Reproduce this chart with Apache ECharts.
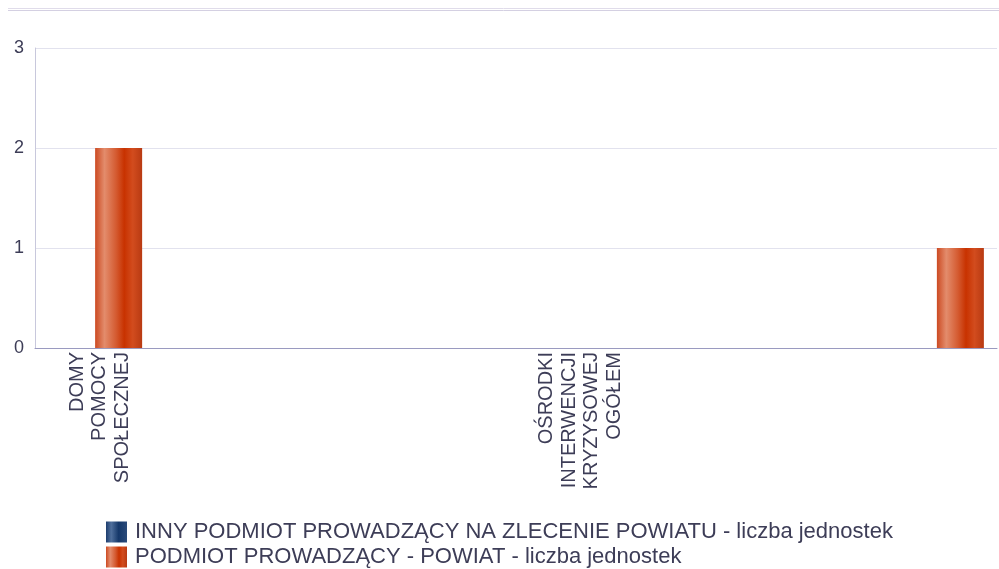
<!DOCTYPE html>
<html>
<head>
<meta charset="utf-8">
<script src="https://cdn.jsdelivr.net/npm/echarts@6/dist/echarts.min.js"></script>
<style>
html,body{margin:0;padding:0;background:#fff;}
#chart{width:999px;height:569px;}
</style>
</head>
<body>
<div id="chart"></div>
<script>
const categories = ["DOMY POMOCY SPOŁECZNEJ", "", "", "", "OŚRODKI INTERWENCJI KRYZYSOWEJ OGÓŁEM", "", "", ""];
const seriesNames = ["INNY PODMIOT PROWADZĄCY NA ZLECENIE POWIATU - liczba jednostek", "PODMIOT PROWADZĄCY - POWIAT - liczba jednostek"];
const innyValues = [0, 0, 0, 0, 0, 0, 0, 0];
const powiatValues = [2, 0, 0, 0, 0, 0, 0, 1];
const yTicks = [0, 1, 2, 3];

const FONT = "Liberation Sans";
const TXT = "#3d3d57";

const blueGrad = new echarts.graphic.LinearGradient(0, 0, 1, 0, [
  {offset: 0, color: '#1d3d6e'}, {offset: 0.25, color: '#4f6f9c'},
  {offset: 0.6, color: '#15386a'}, {offset: 1, color: '#2a4a7a'}
]);
const orangeGrad = new echarts.graphic.LinearGradient(0, 0, 1, 0, [
  {offset: 0, color: '#cc4a22'}, {offset: 0.2, color: '#e38c6c'},
  {offset: 0.45, color: '#d45a30'}, {offset: 0.62, color: '#c83200'},
  {offset: 0.8, color: '#d24c1e'}, {offset: 1, color: '#b83a12'}
]);

const chart = echarts.init(document.getElementById('chart'), null, {renderer: 'canvas'});
chart.setOption({
  animation: false,
  backgroundColor: '#fff',
  graphic: [
    {type: 'line', shape: {x1: 8, y1: 8.5, x2: 999, y2: 8.5}, style: {stroke: '#e0dcea', lineWidth: 1}},
    {type: 'line', shape: {x1: 8, y1: 10.5, x2: 999, y2: 10.5}, style: {stroke: '#d4d0e2', lineWidth: 1}}
  ],
  grid: {left: 35, right: 2, top: 48, bottom: 221, containLabel: false},
  legend: {
    orient: 'vertical', left: 106, top: 520, itemGap: 1, padding: 0,
    itemWidth: 21, itemHeight: 21, icon: 'rect',
    textStyle: {fontFamily: FONT, fontSize: 22, lineHeight: 16, color: TXT, padding: [8, 0, 0, 3]},
    data: seriesNames
  },
  xAxis: {
    type: 'category', data: categories,
    axisLine: {show: true, lineStyle: {color: '#9a9ac0', width: 1}},
    axisTick: {show: false},
    axisLabel: {
      interval: 3, rotate: 90, margin: 4, color: TXT, fontFamily: FONT, fontSize: 20, lineHeight: 22.5,
      rich: {s: {lineHeight: 9, fontSize: 1}},
      formatter: v => v ? '{s|}\n' + v.split(' ').join('\n') : ''
    }
  },
  yAxis: {
    type: 'value', min: 0, max: 3, interval: 1,
    axisLine: {show: true, lineStyle: {color: '#c8c8dc'}},
    axisTick: {show: false},
    splitLine: {lineStyle: {color: '#e2e2ee'}},
    axisLabel: {color: TXT, fontFamily: FONT, fontSize: 18, margin: 11,
      formatter: v => yTicks.includes(v) ? String(v) : ''}
  },
  series: [
    {name: seriesNames[0], type: 'bar', data: innyValues, barWidth: 47, barGap: '0%', itemStyle: {color: blueGrad}},
    {name: seriesNames[1], type: 'bar', data: powiatValues, barWidth: 47, barGap: '0%', itemStyle: {color: orangeGrad}}
  ]
});
</script>
</body>
</html>
